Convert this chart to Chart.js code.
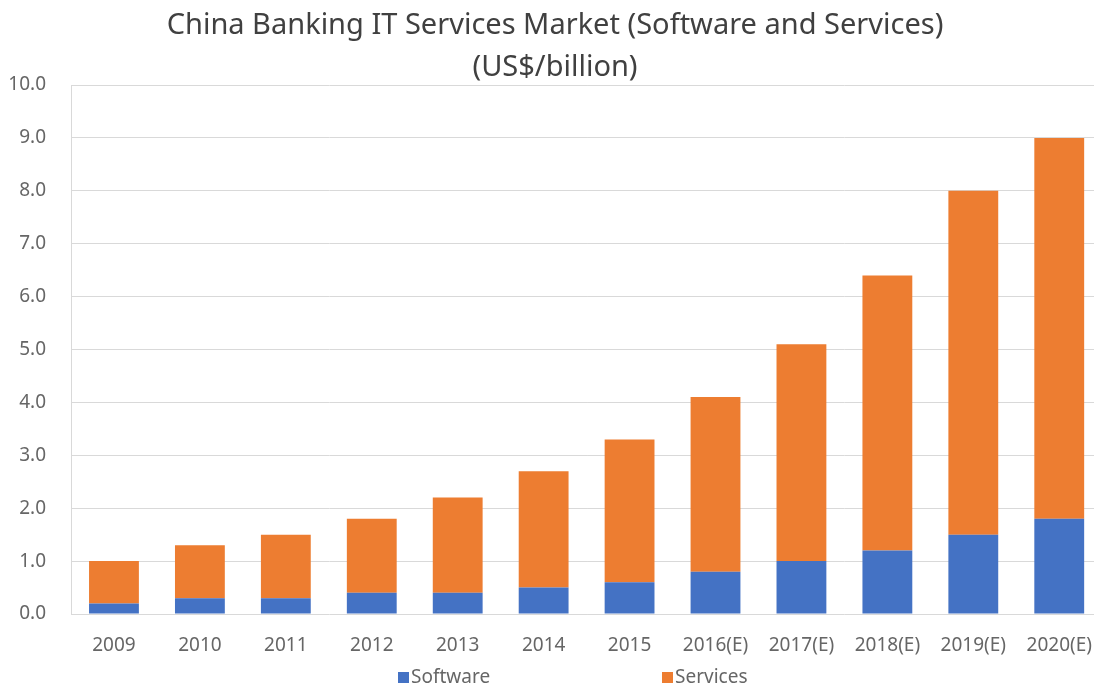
<!DOCTYPE html>
<html>
<head>
<meta charset="utf-8">
<script src="https://cdn.jsdelivr.net/npm/chart.js@4/dist/chart.umd.min.js"></script>
<style>
  html, body { margin: 0; padding: 0; background: #fff; overflow: hidden; }
  #wrap { width: 1104px; height: 686px; }
</style>
</head>
<body>
<div id="wrap"><canvas id="marketChart" width="1104" height="686"></canvas></div>
<script>
const years = ['2009', '2010', '2011', '2012', '2013', '2014', '2015',
  '2016(E)', '2017(E)', '2018(E)', '2019(E)', '2020(E)'];
const software = [0.2, 0.3, 0.3, 0.4, 0.4, 0.5, 0.6, 0.8, 1.0, 1.2, 1.5, 1.8];
const services = [0.8, 1.0, 1.2, 1.4, 1.8, 2.2, 2.7, 3.3, 4.1, 5.2, 6.5, 7.2];
const yTicks = [0, 1, 2, 3, 4, 5, 6, 7, 8, 9, 10];
const titleLines = ['China Banking IT Services Market (Software and Services)', '(US$/billion)'];

const FONT = '"Noto Sans", "DejaVu Sans", sans-serif';
const TEXT = '#666666';

// title and legend drawn by hand so they sit where the layout wants them
const decorations = {
  id: 'decorations',
  afterDraw(chart) {
    const ctx = chart.ctx;
    ctx.save();
    ctx.fillStyle = '#404040';
    ctx.font = '29px ' + FONT;
    ctx.textAlign = 'center';
    ctx.textBaseline = 'middle';
    ctx.fillText(titleLines[0], 555, 26);
    ctx.fillText(titleLines[1], 555, 68);

    const legendX = [398, 662];
    ctx.font = '19px ' + FONT;
    ctx.textAlign = 'left';
    chart.data.datasets.forEach((ds, i) => {
      ctx.fillStyle = ds.backgroundColor;
      ctx.fillRect(legendX[i], 672, 11, 11);
      ctx.fillStyle = TEXT;
      ctx.fillText(ds.label, legendX[i] + 13, 678);
    });
    ctx.restore();
  }
};

new Chart('marketChart', {
  type: 'bar',
  data: {
    labels: years,
    datasets: [
      { label: 'Software', data: software, backgroundColor: '#4472C4' },
      { label: 'Services', data: services, backgroundColor: '#ED7D31' }
    ]
  },
  options: {
    responsive: false,
    animation: false,
    layout: { padding: { top: 85, right: 1, bottom: 0, left: 0 } },
    datasets: { bar: { categoryPercentage: 1, barPercentage: 0.58 } },
    plugins: {
      legend: { display: false },
      title: { display: false },
      tooltip: { enabled: false }
    },
    scales: {
      x: {
        stacked: true,
        afterFit: s => { s.height = 72; },
        grid: { display: false },
        border: { display: false },
        ticks: { color: TEXT, font: { family: FONT, size: 19 }, padding: 12, maxRotation: 0, autoSkip: false }
      },
      y: {
        stacked: true,
        min: 0,
        max: 10,
        afterFit: s => { s.width = 71; },
        afterBuildTicks: s => { s.ticks = yTicks.map(v => ({ value: v })); },
        grid: { color: '#d9d9d9', drawTicks: false },
        border: { display: true, color: '#d9d9d9' },
        ticks: {
          color: TEXT,
          font: { family: FONT, size: 19 },
          padding: 25,
          callback: v => v.toFixed(1)
        }
      }
    }
  },
  plugins: [decorations]
});
</script>
</body>
</html>
